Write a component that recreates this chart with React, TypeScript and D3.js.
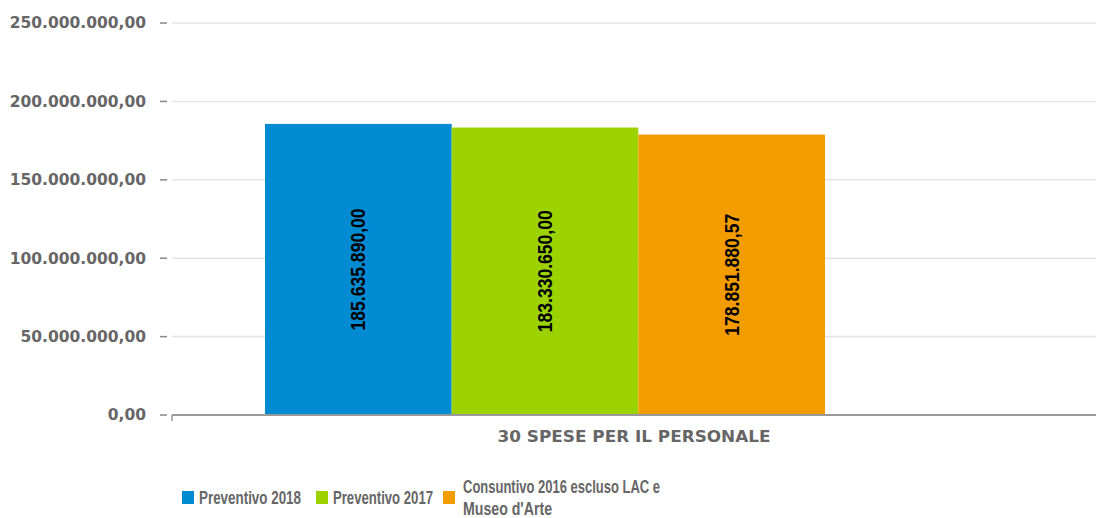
import * as d3 from "d3";

const width = 1096;
const height = 518;

const category = "30 SPESE PER IL PERSONALE";
const series = ["Preventivo 2018", "Preventivo 2017", "Consuntivo 2016 escluso LAC e Museo d'Arte"];
const values = [185635890.0, 183330650.0, 178851880.57];
const colors = ["#008bd2", "#9bd200", "#f29c00"];
const yTicks = [0, 50000000, 100000000, 150000000, 200000000, 250000000];

const fmt = (v: number) => {
  const [int, dec] = v.toFixed(2).split(".");
  return int.replace(/\B(?=(\d{3})+(?!\d))/g, ".") + "," + dec;
};

const App = () => {
  const plotLeft = 172;
  const plotRight = 1096;
  const y = d3.scaleLinear().domain([0, 250000000]).range([415, 23]);
  const xCat = d3.scaleBand().domain([category]).range([plotLeft, plotRight]);
  const xSeries = d3.scaleBand().domain(series).range([265, 825]);

  const axisFont = "'DejaVu Sans', Verdana, sans-serif";
  const narrow = "'Liberation Sans', Arial, sans-serif";

  return (
    <svg width={width} height={height} style={{ position: "absolute", left: 0, top: 0, background: "#fff" }}>
      {yTicks.map((t) => (
        <g key={t}>
          {t > 0 && <line x1={plotLeft} x2={plotRight} y1={y(t)} y2={y(t)} stroke="#e4e4e4" strokeWidth={1.5} />}
          <line x1={160} x2={167} y1={y(t)} y2={y(t)} stroke="#888" strokeWidth={1.5} />
          <text x={146} y={y(t)} dy="0.35em" textAnchor="end" fontFamily={axisFont} fontWeight="bold" fontSize={15.5} fill="#666">
            {fmt(t)}
          </text>
        </g>
      ))}
      {series.map((s, i) => (
        <g key={s}>
          <rect x={xSeries(s)} y={y(values[i])} width={xSeries.bandwidth()} height={y(0) - y(values[i])} fill={colors[i]} />
          <text
            transform={`translate(${xSeries(s)! + xSeries.bandwidth() / 2},${(y(values[i]) + y(0)) / 2}) rotate(-90)`}
            textAnchor="middle"
            dy="0.35em"
            fontFamily={narrow}
            fontWeight="bold"
            fontSize={20}
            textLength={122}
            lengthAdjust="spacingAndGlyphs"
            fill="#000"
          >
            {fmt(values[i])}
          </text>
        </g>
      ))}
      <line x1={plotLeft} x2={plotRight} y1={y(0)} y2={y(0)} stroke="#999" strokeWidth={2} />
      <line x1={plotLeft} x2={plotLeft} y1={y(0)} y2={y(0) + 6} stroke="#999" strokeWidth={1.5} />
      <text x={xCat(category)! + xCat.bandwidth() / 2} y={436} dy="0.35em" textAnchor="middle" fontFamily={axisFont} fontWeight="bold" fontSize={16} textLength={273} lengthAdjust="spacingAndGlyphs" fill="#666">
        {category}
      </text>
      <g fontFamily={narrow} fontWeight="bold" fontSize={19} fill="#666">
        <rect x={182} y={491} width={12} height={13} fill={colors[0]} />
        <text x={199} y={497} dy="0.35em" textLength={102} lengthAdjust="spacingAndGlyphs">{series[0]}</text>
        <rect x={316} y={491} width={12} height={13} fill={colors[1]} />
        <text x={333} y={497} dy="0.35em" textLength={100} lengthAdjust="spacingAndGlyphs">{series[1]}</text>
        <rect x={443} y={491} width={12} height={13} fill={colors[2]} />
        <text x={463} y={486} dy="0.35em" textLength={197} lengthAdjust="spacingAndGlyphs">Consuntivo 2016 escluso LAC e</text>
        <text x={463} y={508} dy="0.35em" textLength={89} lengthAdjust="spacingAndGlyphs">Museo d'Arte</text>
      </g>
    </svg>
  );
};

export default App;
